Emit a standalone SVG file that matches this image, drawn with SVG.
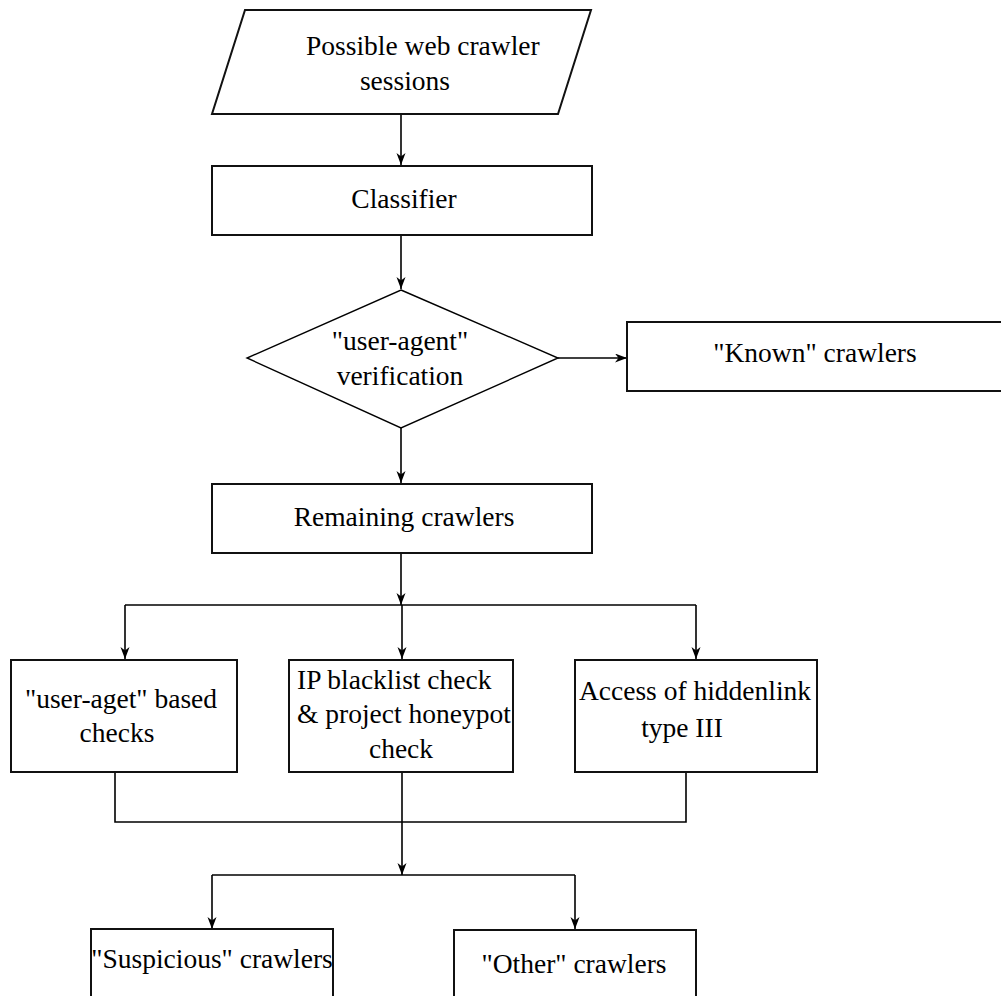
<svg xmlns="http://www.w3.org/2000/svg" width="1001" height="996" viewBox="0 0 1001 996">
  <defs>
    <marker id="arrow" markerUnits="userSpaceOnUse" markerWidth="13" markerHeight="10" refX="12" refY="4.5" orient="auto">
      <path d="M0,0 L12,4.5 L0,9 L3.5,4.5 z" fill="#000"/>
    </marker>
    <style>
      .shape { fill: #fff; stroke: #111; stroke-width: 2; }
      .thin { fill: #fff; stroke: #000; stroke-width: 1.4; }
      .lbl { font-family: "Liberation Serif", "Times New Roman", serif; font-size: 27.5px; fill: #000; }
      .mid { text-anchor: middle; }
      .wire { fill: none; stroke: #000; stroke-width: 1.6; }
    </style>
  </defs>
  <rect width="1001" height="996" fill="#fff"/>

  <!-- connectors -->
  <g id="connectors">
    <path class="wire" d="M401,114 V165" marker-end="url(#arrow)"/>
    <path class="wire" d="M401,235 V289" marker-end="url(#arrow)"/>
    <path class="wire" d="M558,358 H627" marker-end="url(#arrow)"/>
    <path class="wire" d="M401,428 V483" marker-end="url(#arrow)"/>
    <path class="wire" d="M401,553 V605" marker-end="url(#arrow)"/>
    <path class="wire" d="M125,605 H696"/>
    <path class="wire" d="M125,605 V659" marker-end="url(#arrow)"/>
    <path class="wire" d="M402,605 V659" marker-end="url(#arrow)"/>
    <path class="wire" d="M696,605 V659" marker-end="url(#arrow)"/>
    <path class="wire" d="M115,772 V822 H686 V772"/>
    <path class="wire" d="M402,772 V875" marker-end="url(#arrow)"/>
    <path class="wire" d="M212,875 H575"/>
    <path class="wire" d="M212,875 V929" marker-end="url(#arrow)"/>
    <path class="wire" d="M575,875 V929" marker-end="url(#arrow)"/>
  </g>

  <!-- input sessions -->
  <g id="sessions">
    <polygon class="shape" points="245,10 591,10 558,114 212,114"/>
    <text class="lbl" x="306" y="55">Possible web crawler</text>
    <text class="lbl mid" x="405" y="90">sessions</text>
  </g>

  <g id="classifier">
    <rect class="shape" x="212" y="166" width="380" height="69"/>
    <text class="lbl mid" x="404" y="208">Classifier</text>
  </g>

  <g id="ua-verification">
    <polygon class="thin" points="401,290 558,358 401,428 247,358"/>
    <text class="lbl mid" x="400" y="350">"user-agent"</text>
    <text class="lbl mid" x="400" y="385">verification</text>
  </g>

  <g id="known">
    <rect class="shape" x="627" y="322" width="380" height="69"/>
    <text class="lbl mid" x="815" y="362">"Known" crawlers</text>
  </g>

  <g id="remaining">
    <rect class="shape" x="212" y="484" width="380" height="69"/>
    <text class="lbl mid" x="404" y="526">Remaining crawlers</text>
  </g>

  <g id="ua-checks">
    <rect class="shape" x="11" y="660" width="226" height="112"/>
    <text class="lbl mid" x="121" y="708">"user-aget" based</text>
    <text class="lbl mid" x="117" y="742">checks</text>
  </g>

  <g id="blacklist">
    <rect class="shape" x="289" y="660" width="224" height="112"/>
    <text class="lbl" x="297" y="689">IP blacklist check</text>
    <text class="lbl" x="297" y="723">&amp; project honeypot</text>
    <text class="lbl mid" x="401" y="758">check</text>
  </g>

  <g id="hiddenlink">
    <rect class="shape" x="575" y="660" width="242" height="112"/>
    <text class="lbl mid" x="695" y="700">Access of hiddenlink</text>
    <text class="lbl mid" x="682" y="737">type III</text>
  </g>

  <g id="suspicious">
    <rect class="shape" x="91" y="929" width="242" height="80"/>
    <text class="lbl mid" x="212" y="968">"Suspicious" crawlers</text>
  </g>

  <g id="other">
    <rect class="shape" x="454" y="930" width="242" height="80"/>
    <text class="lbl mid" x="574" y="973">"Other" crawlers</text>
  </g>
</svg>
